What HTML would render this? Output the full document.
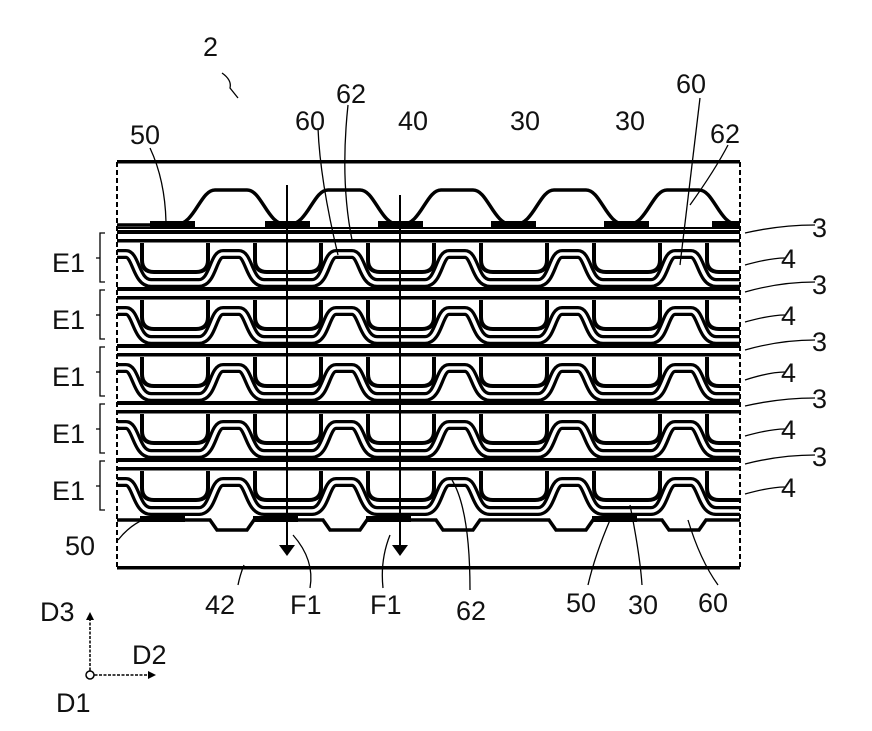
<!DOCTYPE html>
<html><head><meta charset="utf-8"><style>
body{margin:0;background:#fff}
text{font-family:"Liberation Sans",sans-serif;font-size:27px;fill:#111}
</style></head><body>
<svg width="872" height="726" viewBox="0 0 872 726" xmlns="http://www.w3.org/2000/svg">
<defs>
<clipPath id="c"><rect x="117" y="150" width="623" height="430"/></clipPath>
<g id="unit">
  <rect x="-100" y="0" width="1000" height="4" fill="#000"/>
  <rect x="-100" y="9" width="1000" height="3.5" fill="#000"/>
  <path d="M-100,24 L-15,24 C-5,24 -5,53 10,53 L58,53 C72,53 72,24 82,24 L98,24 C108,24 108,53 123,53 L171,53 C185,53 185,24 195,24 L211,24 C221,24 221,53 236,53 L284,53 C298,53 298,24 308,24 L324,24 C334,24 334,53 349,53 L397,53 C411,53 411,24 421,24 L437,24 C447,24 447,53 462,53 L510,53 C524,53 524,24 534,24 L550,24 C560,24 560,53 575,53 L623,53 C637,53 637,24 647,24 L663,24 C673,24 673,53 688,53 L736,53 C750,53 750,24 760,24 L776,24 C786,24 786,53 801,53 L849,53 C863,53 863,24 873,24 L900,24" fill="none" stroke="#000" stroke-width="10"/>
  <path d="M-100,24 L-15,24 C-5,24 -5,53 10,53 L58,53 C72,53 72,24 82,24 L98,24 C108,24 108,53 123,53 L171,53 C185,53 185,24 195,24 L211,24 C221,24 221,53 236,53 L284,53 C298,53 298,24 308,24 L324,24 C334,24 334,53 349,53 L397,53 C411,53 411,24 421,24 L437,24 C447,24 447,53 462,53 L510,53 C524,53 524,24 534,24 L550,24 C560,24 560,53 575,53 L623,53 C637,53 637,24 647,24 L663,24 C673,24 673,53 688,53 L736,53 C750,53 750,24 760,24 L776,24 C786,24 786,53 801,53 L849,53 C863,53 863,24 873,24 L900,24" fill="none" stroke="#fff" stroke-width="3.5"/>
</g>
<path id="cup" d="M-33,13 L-33,30 Q-33,42 -21,42 L21,42 Q33,42 33,30 L33,13" fill="#fff" stroke="#000" stroke-width="4"/>
<g id="row"><use href="#unit" x="-89"/><use href="#cup" x="58"/><use href="#cup" x="171"/><use href="#cup" x="284"/><use href="#cup" x="397"/><use href="#cup" x="510"/><use href="#cup" x="623"/></g>
</defs>
<g clip-path="url(#c)">
  <rect x="100" y="160" width="660" height="3.5" fill="#000"/>
  <path d="M100,225 L175,225 C195,225 200,190 215,190 L247,190 C262,190 267,225 287,225 L288,225 C308,225 313,190 328,190 L360,190 C375,190 380,225 400,225 L401,225 C421,225 426,190 441,190 L473,190 C488,190 493,225 513,225 L514,225 C534,225 539,190 554,190 L586,190 C601,190 606,225 626,225 L627,225 C647,225 652,190 667,190 L699,190 C714,190 719,225 739,225 L760,225" fill="none" stroke="#000" stroke-width="3.5"/>
  <rect x="100" y="227" width="660" height="2" fill="#000"/>
  <g fill="#000"><rect x="150" y="221" width="45" height="6"/><rect x="265" y="221" width="45" height="6"/><rect x="378" y="221" width="45" height="6"/><rect x="491" y="221" width="45" height="6"/><rect x="604" y="221" width="45" height="6"/><rect x="712" y="221" width="40" height="6"/></g>
  <g transform="translate(117,230)"><use href="#row"/></g>
  <g transform="translate(117,287)"><use href="#row"/></g>
  <g transform="translate(117,344)"><use href="#row"/></g>
  <g transform="translate(117,401)"><use href="#row"/></g>
  <g transform="translate(117,458)"><use href="#row"/></g>
  <path d="M100,520 L210,520 L217,530 L247,530 L254,520 L323,520 L330,530 L360,530 L367,520 L436,520 L443,530 L473,530 L480,520 L549,520 L556,530 L586,530 L593,520 L662,520 L669,530 L699,530 L706,520 L760,520" fill="none" stroke="#000" stroke-width="3.5"/>
  <g fill="#000"><rect x="140" y="516" width="45" height="6"/><rect x="253" y="516" width="45" height="6"/><rect x="366" y="516" width="45" height="6"/><rect x="592" y="516" width="45" height="6"/></g>
  <rect x="100" y="566" width="660" height="3.5" fill="#000"/>
</g>
<g stroke="#000" stroke-width="2" stroke-dasharray="5,3"><line x1="117" y1="162" x2="117" y2="570"/><line x1="740" y1="162" x2="740" y2="570"/></g>
<g stroke="#000" stroke-width="2"><line x1="287" y1="185" x2="287" y2="545"/><line x1="400" y1="195" x2="400" y2="545"/></g>
<polygon points="279,545 295,545 287,556" fill="#000"/><polygon points="392,545 408,545 400,556" fill="#000"/>
<g fill="none" stroke="#000" stroke-width="1.3">
<path d="M222,73 Q232,80 230,88 L238,98"/>
<path d="M150,148 Q165,180 166,222"/>
<path d="M318,128 Q320,180 338,255"/>
<path d="M348,105 Q340,180 352,240"/>
<path d="M700,98 Q690,180 680,265"/>
<path d="M728,145 Q715,170 690,205"/>
<path d="M745,233 Q780,225 815,225"/><path d="M745,265 Q770,258 785,258"/>
<path d="M745,292 Q780,282 815,282"/><path d="M745,322 Q770,315 785,315"/>
<path d="M745,350 Q780,340 815,340"/><path d="M745,380 Q770,372 785,372"/>
<path d="M745,406 Q780,398 815,398"/><path d="M745,436 Q770,429 785,429"/>
<path d="M745,464 Q780,455 815,455"/><path d="M745,494 Q770,487 785,487"/>
<path d="M118,540 Q130,525 145,519"/>
<path d="M238,585 Q240,575 244,565"/>
<path d="M310,588 Q315,560 293,535"/><path d="M383,588 Q380,560 390,535"/>
<path d="M470,590 Q470,510 452,480"/><path d="M588,585 Q595,555 610,520"/>
<path d="M642,585 Q640,555 630,505"/><path d="M718,585 Q700,560 688,520"/>
<path d="M105,233 L100,233 L100,282 L105,282 M100,258 L96,258"/>
<path d="M105,290 L100,290 L100,339 L105,339 M100,315 L96,315"/>
<path d="M105,347 L100,347 L100,396 L105,396 M100,372 L96,372"/>
<path d="M105,404 L100,404 L100,453 L105,453 M100,429 L96,429"/>
<path d="M105,461 L100,461 L100,510 L105,510 M100,486 L96,486"/>
</g>
<g stroke="#000" stroke-width="1.5" stroke-dasharray="3,1.5"><line x1="90" y1="675" x2="90" y2="617"/><line x1="90" y1="675" x2="150" y2="675"/></g>
<polygon points="86,620 94,620 90,612" fill="#000"/><polygon points="148,671 148,679 156,675" fill="#000"/>
<circle cx="90" cy="675" r="4" fill="#fff" stroke="#000" stroke-width="1.5"/>
<text x="203" y="56">2</text>
<text x="130" y="144">50</text><text x="336" y="103">62</text><text x="295" y="130">60</text><text x="398" y="130">40</text>
<text x="510" y="130">30</text><text x="615" y="130">30</text><text x="676" y="93">60</text><text x="710" y="143">62</text>
<text x="812" y="237">3</text><text x="781" y="268">4</text><text x="812" y="294">3</text><text x="781" y="325">4</text>
<text x="812" y="351">3</text><text x="781" y="382">4</text><text x="812" y="408">3</text><text x="781" y="439">4</text>
<text x="812" y="466">3</text><text x="781" y="497">4</text>
<text x="52" y="272">E1</text><text x="52" y="329">E1</text><text x="52" y="386">E1</text><text x="52" y="443">E1</text><text x="52" y="500">E1</text>
<text x="65" y="555">50</text>
<text x="205" y="614">42</text><text x="290" y="614">F1</text><text x="370" y="614">F1</text><text x="456" y="620">62</text>
<text x="566" y="612">50</text><text x="628" y="614">30</text><text x="698" y="612">60</text>
<text x="40" y="621">D3</text><text x="132" y="664">D2</text><text x="56" y="712">D1</text>
</svg>
</body></html>
